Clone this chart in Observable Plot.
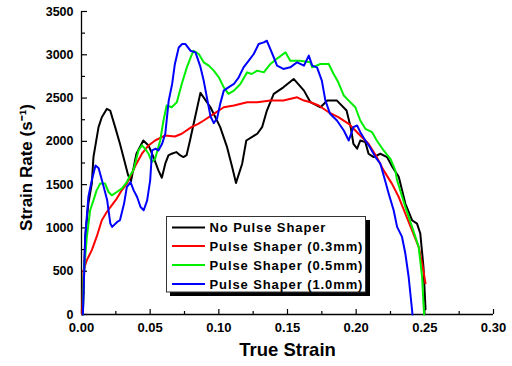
<!DOCTYPE html>
<html>
<head>
<meta charset="utf-8">
<script src="https://cdn.jsdelivr.net/npm/d3@7"></script>
<script src="https://cdn.jsdelivr.net/npm/@observablehq/plot@0.6"></script>
<style>
  html, body { margin: 0; padding: 0; background: #fff; }
  #chart svg { display: block; }
</style>
</head>
<body>
<div id="chart"></div>
<script>
// ---- data ----
const seriesNames = ["No Pulse Shaper", "Pulse Shaper (0.3mm)", "Pulse Shaper (0.5mm)", "Pulse Shaper (1.0mm)"];
const seriesColors = ["#000000", "#ff0000", "#00ee00", "#0000ff"];

const noShaperStrain = [0.001,0.0027,0.005,0.0075,0.0087,0.0124,0.0148,0.0184,0.0209,0.0245,0.028,0.0318,0.034,0.036,0.040,0.045,0.0488,0.0524,0.056,0.0585,0.061,0.0633,0.0657,0.069,0.072,0.0742,0.0765,0.079,0.0827,0.0866,0.0939,0.101,0.106,0.1097,0.1125,0.117,0.120,0.128,0.1315,0.135,0.140,0.147,0.1545,0.162,0.1667,0.174,0.179,0.186,0.193,0.196,0.198,0.2007,0.203,0.2067,0.209,0.2127,0.2176,0.2225,0.2265,0.231,0.2358,0.2407,0.2443,0.2467,0.249,0.2503,0.2505];
const noShaperRate   = [0,896,1281,1512,1818,2164,2279,2375,2356,2164,1972,1742,1607,1540,1857,2010,1953,1818,1665,1580,1742,1837,1857,1876,1837,1818,1840,2010,2279,2560,2394,2164,1933,1703,1520,1742,2010,2088,2164,2356,2548,2624,2721,2586,2452,2394,2471,2471,2356,2164,1972,1915,2010,1991,1857,1818,1857,1818,1700,1590,1281,1089,1050,935,551,129,60];

const shaper03Strain = [0.0005,0.001,0.0015,0.0039,0.0075,0.011,0.0148,0.0184,0.022,0.0257,0.0293,0.033,0.0366,0.040,0.044,0.0488,0.0536,0.061,0.068,0.073,0.080,0.085,0.089,0.0963,0.1036,0.111,0.1206,0.128,0.1376,0.147,0.157,0.162,0.1667,0.1727,0.18,0.187,0.1946,0.2017,0.209,0.215,0.22,0.226,0.231,0.2358,0.2407,0.2455,0.248,0.2503,0.2505];
const shaper03Rate   = [0,300,512,628,743,896,1089,1184,1261,1339,1434,1512,1627,1742,1857,1953,2010,2068,2056,2088,2164,2203,2241,2318,2394,2414,2452,2452,2471,2471,2509,2471,2452,2414,2336,2279,2203,2088,1972,1818,1665,1512,1357,1166,973,781,590,378,360];

const shaper05Strain = [0.001,0.0015,0.0039,0.0063,0.0087,0.011,0.0136,0.0172,0.0197,0.022,0.0257,0.0293,0.033,0.0354,0.0378,0.0415,0.044,0.0463,0.0488,0.0512,0.0536,0.0573,0.0597,0.062,0.0657,0.0694,0.073,0.0767,0.080,0.0817,0.0854,0.089,0.0927,0.0963,0.1,0.1036,0.107,0.111,0.1157,0.1206,0.124,0.128,0.1327,0.1376,0.142,0.1485,0.152,0.159,0.1667,0.168,0.174,0.18,0.1836,0.187,0.191,0.1946,0.1994,0.203,0.2067,0.2116,0.215,0.22,0.2249,0.2285,0.2298,0.2358,0.2407,0.2455,0.248,0.249,0.2495];
const shaper05Rate   = [0,436,896,1204,1319,1434,1512,1512,1415,1377,1415,1454,1530,1607,1665,1895,1953,1915,1857,1760,1799,2010,2241,2414,2394,2452,2663,2855,2990,3047,3009,2913,2875,2817,2740,2624,2548,2586,2663,2797,2778,2817,2797,2894,2951,3028,2932,2932,2913,2855,2894,2894,2778,2682,2529,2471,2394,2241,2145,2106,2010,1895,1799,1665,1550,1242,1012,781,436,129,0];

const shaper10Strain = [0.001,0.0027,0.005,0.0075,0.0102,0.0125,0.0162,0.0187,0.021,0.0223,0.026,0.028,0.031,0.033,0.0357,0.038,0.0405,0.043,0.0453,0.0478,0.050,0.0514,0.054,0.056,0.0587,0.061,0.0635,0.066,0.068,0.0708,0.0733,0.0757,0.0793,0.083,0.0866,0.089,0.0915,0.0939,0.0963,0.0988,0.101,0.1036,0.107,0.111,0.1145,0.118,0.1218,0.1254,0.129,0.1327,0.135,0.139,0.1424,0.147,0.152,0.157,0.162,0.1655,0.168,0.1715,0.175,0.1776,0.181,0.186,0.191,0.1946,0.198,0.2007,0.203,0.2067,0.21,0.214,0.2176,0.221,0.2237,0.2273,0.2298,0.2334,0.2358,0.2382,0.2407,0.241];
const shaper10Rate   = [0,896,1357,1550,1722,1690,1472,1319,1050,1012,1069,1089,1281,1472,1530,1434,1357,1242,1204,1319,1550,1895,1915,1895,1972,2088,2471,2663,2894,3085,3124,3124,3047,3028,2860,2700,2490,2290,2210,2270,2433,2586,2624,2663,2740,2855,2932,3009,3124,3143,3162,3009,2875,2836,2855,2913,2875,2990,2875,2855,2701,2471,2318,2241,2126,2010,2164,2183,2106,2010,1933,1818,1742,1550,1396,1204,1012,896,705,436,52,0];

const xMajorTicks = [0, 0.05, 0.10, 0.15, 0.20, 0.25, 0.30];
const xMinorTicks = [0.025, 0.075, 0.125, 0.175, 0.225, 0.275];
const yMajorTicks = [0, 500, 1000, 1500, 2000, 2500, 3000, 3500];
const yMinorTicks = [250, 750, 1250, 1750, 2250, 2750, 3250];
const xTitle = "True Strain";
const yTitle = "Strain Rate (s⁻¹)";

// ---- build table ----
const strains = [noShaperStrain, shaper03Strain, shaper05Strain, shaper10Strain];
const rates = [noShaperRate, shaper03Rate, shaper05Rate, shaper10Rate];
const rows = [];
seriesNames.forEach((name, i) => {
  strains[i].forEach((s, j) => rows.push({series: name, strain: s, rate: rates[i][j]}));
});

const W = 512, H = 366;
const mL = 81, mR = 19, mT = 11, mB = 52;
const pw = W - mL - mR, ph = H - mT - mB;
const FONT = "'Liberation Sans', Arial, Helvetica, sans-serif";

const chart = Plot.plot({
  width: W, height: H,
  marginLeft: mL, marginRight: mR, marginTop: mT, marginBottom: mB,
  style: {fontFamily: FONT, fontWeight: "bold", color: "#000", background: "#fff", overflow: "visible"},
  x: {domain: [0, 0.30]},
  y: {domain: [0, 3500]},
  color: {domain: seriesNames, range: seriesColors},
  marks: [
    Plot.axisX(xMajorTicks, {tickSize: 0, tickPadding: 8, tickFormat: d3.format(".2f"), fontSize: 13, fontWeight: "bold", label: null, letterSpacing: 0.6}),
    Plot.axisY(yMajorTicks, {tickSize: 0, tickPadding: 8, tickFormat: d3.format("d"), fontSize: 12.5, fontWeight: "bold", label: null, letterSpacing: 0.4}),
    Plot.tickX(xMajorTicks, {x: d => d, insetTop: ph - 5, stroke: "#000", strokeWidth: 1.2}),
    Plot.tickX(xMinorTicks, {x: d => d, insetTop: ph - 3, stroke: "#000", strokeWidth: 1.2}),
    Plot.tickY(yMajorTicks, {y: d => d, insetRight: pw - 6, stroke: "#000", strokeWidth: 1.2}),
    Plot.tickY(yMinorTicks, {y: d => d, insetRight: pw - 4, stroke: "#000", strokeWidth: 1.2}),
    Plot.ruleX([0], {stroke: "#000", strokeWidth: 1.3}),
    Plot.ruleY([0], {stroke: "#000", strokeWidth: 1.3}),
    Plot.line(rows, {x: "strain", y: "rate", z: "series", stroke: "series", strokeWidth: 2, strokeLinejoin: "round"}),
    Plot.text([xTitle], {frameAnchor: "bottom", textAnchor: "middle", dy: 41, fontSize: 18.5, fontWeight: "bold", fill: "#000", letterSpacing: 0.6}),
    Plot.text([yTitle], {frameAnchor: "left", textAnchor: "middle", dx: -55, dy: 4.5, rotate: -90, fontSize: 17, fontWeight: "bold", fill: "#000", letterSpacing: 0.5})
  ]
});

document.getElementById("chart").appendChild(chart);

// ---- legend drawn inside the plot area ----
const svg = d3.select(chart);
const lg = svg.append("g").attr("class", "legend").attr("text-anchor", "start");
lg.append("rect").attr("x", 170).attr("y", 220).attr("width", 200).attr("height", 76).attr("fill", "#000");
lg.append("rect").attr("x", 166.5).attr("y", 216.5).attr("width", 199).attr("height", 75.5)
  .attr("fill", "#fff").attr("stroke", "#333").attr("stroke-width", 1);
const rowY = [227.5, 246, 265, 284];
seriesNames.forEach((name, i) => {
  lg.append("line").attr("x1", 172).attr("x2", 205).attr("y1", rowY[i]).attr("y2", rowY[i])
    .attr("stroke", seriesColors[i]).attr("stroke-width", 1.8);
  lg.append("text").attr("x", 209.5).attr("y", rowY[i]).attr("dy", "0.36em")
    .attr("text-anchor", "start")
    .attr("font-family", FONT).attr("font-size", 13).attr("font-weight", "bold")
    .attr("letter-spacing", 0.9).attr("fill", "#000").text(name);
});
</script>
</body>
</html>
